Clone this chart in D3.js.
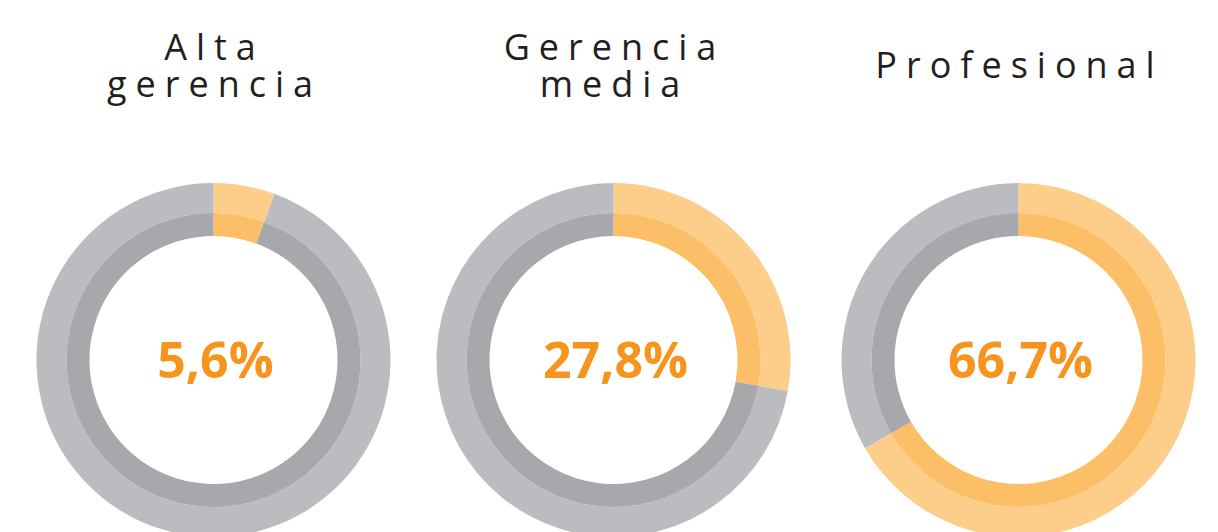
<!DOCTYPE html>
<html><head><meta charset="utf-8">
<script src="https://cdn.jsdelivr.net/npm/d3@7"></script>
<style>body{margin:0;background:#fff;overflow:hidden}</style>
</head><body>
<svg id="c" width="1218" height="532"></svg>
<script>
const categories = [["Alta","gerencia"],["Gerencia","media"],["Profesional"]];
const values = [5.6, 27.8, 66.7];
const labels = ["5,6%","27,8%","66,7%"];

const svg = d3.select("#c");
const x = d3.scaleOrdinal().domain([0,1,2]).range([213.5,613.5,1018.5]);
const cy = 360;
const rOuter = 177, rMid = 147, rInner = 124;
const angle = d3.scaleLinear().domain([0,100]).range([0, 2*Math.PI]);

categories.forEach((cat,i)=>{
  const g = svg.append("g").attr("transform",`translate(${x(i)},${cy})`);
  const v = values[i];
  const segs = [
    {s:0,e:angle(v),c:["#fdcd8a","#fcbe66"]},
    {s:angle(v),e:2*Math.PI,c:["#bbbcc0","#a7a8ac"]}
  ];
  segs.forEach(sg=>{
    g.append("path").attr("d", d3.arc().innerRadius(rMid).outerRadius(rOuter).startAngle(sg.s).endAngle(sg.e)()).attr("fill",sg.c[0]);
    g.append("path").attr("d", d3.arc().innerRadius(rInner).outerRadius(rMid).startAngle(sg.s).endAngle(sg.e)()).attr("fill",sg.c[1]);
  });
  g.append("text").attr("x",2).attr("y",18).attr("text-anchor","middle")
    .attr("font-family","'Open Sans', sans-serif").attr("font-weight",700)
    .attr("font-size",50).attr("fill","#f7941d").text(labels[i]);
  const ys = cat.length===1 ? [78] : [60,97];
  cat.forEach((line,j)=>{
    svg.append("text").attr("text-anchor","middle")
      .attr("font-family","'Open Sans', sans-serif").attr("font-weight",400)
      .attr("font-size",36).attr("fill","#231f20").attr("letter-spacing",9)
      .attr("x",x(i)+1).attr("y",ys[j]).text(line);
  });
});
</script>
</body></html>
